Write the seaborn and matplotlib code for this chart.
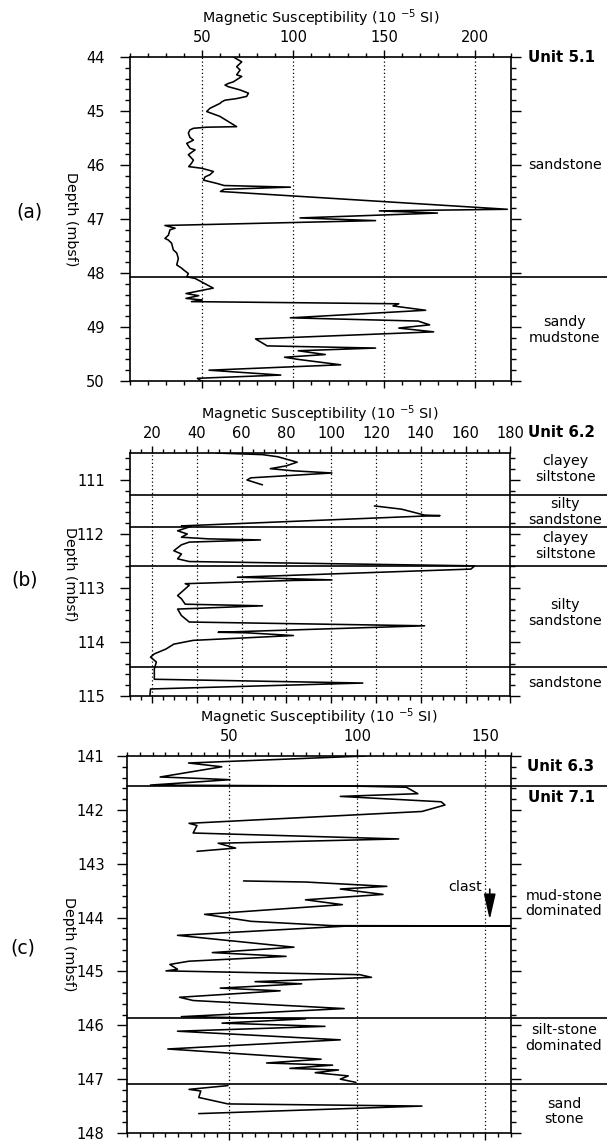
import numpy as np
import pandas as pd
import matplotlib
matplotlib.use("Agg")
import matplotlib.pyplot as plt
import matplotlib.transforms as mtransforms
from matplotlib.ticker import MultipleLocator
import seaborn as sns

# ---------------- data ----------------
# Panel (a): Unit 5.1
a_depth = [44.00, 44.09, 44.18, 44.24, 44.33, 44.36, 44.46, 44.49, 44.52, 44.55,
           44.61, 44.67, 44.73, 44.77, 44.80, 44.83, 44.86, 44.95, 45.01, 45.10,
           45.29, 45.30, 45.32, 45.35, 45.41, 45.49, 45.54, 45.60, 45.69, 45.72,
           45.81, 45.91, 45.97, 46.03, 46.06, 46.12, 46.18, 46.22, 46.28, 46.34,
           46.38, 46.41, 46.45, 46.49, 46.82, 46.85, 46.89, 46.98, 47.03, 47.12,
           47.17, 47.20, 47.30, 47.36, 47.39, 47.45, 47.57, 47.63, 47.73, 47.85,
           47.91, 47.94, 48.01, 48.07, 48.10, 48.28, 48.38, 48.42, 48.47, 48.50,
           48.53, 48.57, 48.61, 48.69, 48.83, 48.89, 48.96, 49.02, 49.09, 49.22,
           49.35, 49.39, 49.44, 49.51, 49.56, 49.60, 49.70, 49.80, 49.89, 49.95,
           50.00]
a_ms = [67.1, 71.7, 68.9, 70.8, 68.9, 71.7, 67.1, 64.3, 62.5, 64.3,
        70.8, 75.4, 74.4, 68.9, 62.5, 60.7, 59.7, 54.2, 52.4, 59.7,
        68.9, 52.4, 45.1, 43.2, 42.3, 43.2, 45.1, 41.4, 43.2, 46.0,
        42.3, 45.1, 44.0, 42.5, 49.6, 56.1, 54.2, 51.5, 50.6, 57.9,
        62.0, 98.5, 62.0, 60.0, 218.0, 147.5, 179.5, 103.8, 145.4, 29.4,
        35.0, 32.2, 31.3, 29.4, 31.3, 33.1, 34.0, 35.9, 36.8, 35.9,
        38.6, 39.6, 42.3, 41.4, 46.0, 56.0, 41.0, 48.0, 41.0, 50.0,
        44.0, 158.2, 155.0, 173.0, 98.5, 168.8, 175.2, 158.2, 177.4, 79.3,
        85.7, 145.4, 102.8, 117.7, 95.3, 102.8, 126.2, 53.7, 93.2, 47.3,
        49.4]

# Panel (b): Unit 6.2
b_depth_1 = [110.50, 110.53, 110.57, 110.67, 110.74, 110.79, 110.83, 110.87,
             110.96, 111.00, 111.09]
b_ms_1 = [48.6, 69.3, 76.2, 84.8, 79.7, 72.8, 83.1, 100.3, 64.1, 62.4, 69.3]
b_depth_2 = [111.48, 111.54, 111.65, 111.66, 111.67, 111.85, 111.86, 111.94,
             112.00, 112.06, 112.09, 112.11, 112.15, 112.20, 112.31, 112.37,
             112.46, 112.51, 112.59, 112.65, 112.80, 112.85, 112.86, 112.92,
             112.95, 113.14, 113.20, 113.30, 113.33, 113.39, 113.51, 113.63,
             113.70, 113.82, 113.83, 113.88, 113.97, 114.04, 114.13, 114.22,
             114.28, 114.37, 114.50, 114.69, 114.76, 114.87, 115.00]
b_ms_2 = [119.3, 131.4, 141.7, 148.6, 140.0, 33.1, 37.4, 31.4,
          35.7, 33.1, 45.2, 68.4, 36.6, 33.1, 29.7, 33.1,
          31.4, 36.6, 164.1, 162.4, 58.1, 100.3, 83.1, 34.8,
          36.6, 31.4, 33.1, 34.8, 69.3, 31.4, 33.1, 36.6,
          141.7, 49.5, 62.4, 83.1, 38.3, 29.7, 26.2, 21.0,
          19.3, 21.9, 21.0, 21.0, 114.1, 19.3, 19.0]

# Panel (c): Units 6.3 / 7.1
c_depth_1 = [141.00, 141.13, 141.20, 141.39, 141.42, 141.44, 141.54, 141.56,
             141.58, 141.70, 141.75, 141.85, 141.91, 142.03, 142.25, 142.29,
             142.43, 142.54, 142.62, 142.71, 142.77]
c_ms_1 = [103.0, 34.0, 47.0, 22.9, 40.3, 50.2, 19.1, 100.0,
          119.1, 123.6, 93.3, 132.7, 134.2, 125.2, 34.2, 37.3,
          35.8, 116.1, 45.6, 52.4, 37.3]
c_depth_2 = [143.32, 143.34, 143.42, 143.47, 143.57, 143.67, 143.76, 143.94,
             144.07, 144.15, 144.155, 144.16, 144.33, 144.55, 144.65, 144.72,
             144.81, 144.87, 144.96, 144.99, 145.06, 145.11, 145.19, 145.23,
             145.31, 145.36, 145.48, 145.54, 145.69, 145.84, 145.88, 145.96,
             146.02, 146.11, 146.27, 146.44, 146.63, 146.70, 146.74, 146.80,
             146.83, 146.88, 146.94, 147.00, 147.06]
c_ms_2 = [55.5, 79.7, 111.5, 93.3, 110.0, 79.7, 94.1, 40.3,
          58.5, 90.3, 160.0, 95.0, 29.7, 75.2, 43.3, 72.1,
          34.2, 26.7, 29.7, 25.2, 100.9, 105.5, 60.0, 78.2,
          46.4, 69.8, 30.5, 35.8, 94.8, 31.2, 79.7, 47.1,
          87.3, 29.7, 93.3, 25.9, 85.8, 64.5, 90.3, 73.6,
          92.6, 83.5, 96.4, 93.3, 99.4]
c_depth_3 = [147.12, 147.19, 147.22, 147.34, 147.46, 147.50, 147.64]
c_ms_3 = [49.4, 34.2, 38.8, 38.0, 49.4, 125.2, 38.0]

a_bounds = [48.08]
b_bounds = [111.28, 111.87, 112.59, 114.47]
c_bounds = [141.56, 145.87, 147.09]

a_litho = [("sandstone", 46.0), ("sandy\nmudstone", 49.05)]
b_litho = [("clayey\nsiltstone", 110.8), ("silty\nsandstone", 111.59),
           ("clayey\nsiltstone", 112.22), ("silty\nsandstone", 113.46),
           ("sandstone", 114.76)]
c_litho = [("mud-stone\ndominated", 143.74), ("silt-stone\ndominated", 146.24),
           ("sand\nstone", 147.6)]
c_units = [("Unit 6.3", 141.2), ("Unit 7.1", 141.77)]

xlabel_text = "Magnetic Susceptibility (10 $^{-5}$ SI)"

# ---------------- style ----------------
sns.set_theme(style="ticks")
plt.rcParams["font.family"] = ["DejaVu Sans"]
plt.rcParams["mathtext.default"] = "regular"
plt.rcParams["axes.linewidth"] = 1.2
for k in ["text.color", "axes.labelcolor", "xtick.color", "ytick.color",
          "axes.edgecolor"]:
    plt.rcParams[k] = "black"

W, H = 607, 1141
fig = plt.figure(figsize=(W / 100, H / 100), dpi=100)
fig.patch.set_facecolor("white")

FS = 10.3


def add_ax(left_px, right_px, top_px, bottom_px):
    return fig.add_axes([left_px / W, 1 - bottom_px / H,
                         (right_px - left_px) / W, (bottom_px - top_px) / H])


def style_panel(ax, xlim, ylim, xmajor, xminor, left_px, right_px,
                ypad=11, ylab_px=70.5):
    ax.set_facecolor("white")
    ax.set_xlim(*xlim)
    ax.set_ylim(ylim[1], ylim[0])
    ax.xaxis.set_major_locator(MultipleLocator(xmajor))
    ax.xaxis.set_minor_locator(MultipleLocator(xminor))
    ax.yaxis.set_major_locator(MultipleLocator(1))
    ax.yaxis.set_minor_locator(MultipleLocator(0.2))
    ax.tick_params(axis="x", which="both", top=True, bottom=True,
                   labeltop=True, labelbottom=False, direction="out",
                   color="black", labelcolor="black", width=1.0)
    ax.tick_params(axis="x", which="major", length=5, pad=3.5,
                   labelsize=FS + 0.2)
    ax.tick_params(axis="x", which="minor", length=3)
    ax.tick_params(axis="y", which="both", left=True, right=True,
                   labelleft=True, labelright=False, direction="out",
                   color="black", labelcolor="black", width=1.0)
    ax.tick_params(axis="y", which="major", length=7, pad=ypad,
                   labelsize=FS + 0.2)
    ax.tick_params(axis="y", which="minor", length=3.5)
    for s in ax.spines.values():
        s.set_color("black")
        s.set_linewidth(1.2)
    for t in ax.xaxis.get_majorticklocs():
        if xlim[0] < t < xlim[1]:
            ax.axvline(t, color="black", lw=0.9, ls=(0, (1, 2)), zorder=1)
    ax.set_xlabel("")
    ax.set_ylabel("Depth (mbsf)", rotation=270, fontsize=FS, va="center",
                  color="black")
    ax.yaxis.set_label_coords((ylab_px - left_px) / (right_px - left_px), 0.5)
    ax.annotate(xlabel_text, xy=(0.5, 1), xycoords="axes fraction",
                xytext=(0, 28), textcoords="offset points",
                ha="center", va="center", fontsize=FS, color="black")


def add_bounds(ax, bounds, left_px, right_px):
    for b in bounds:
        ax.axhline(b, xmin=0, xmax=(W - left_px) / (right_px - left_px),
                   color="black", lw=1.2, clip_on=False, zorder=3)


def add_labels(ax, labels, bold=False, xpx=565):
    tr = mtransforms.blended_transform_factory(fig.transFigure, ax.transData)
    for txt, d in labels:
        ax.text(xpx / W, d, txt, transform=tr, ha="center", va="center",
                fontsize=FS + (0.5 if bold else 0), color="black",
                fontweight="bold" if bold else "normal", linespacing=1.15)


def draw_curve(ax, depth, ms, seg):
    df = pd.DataFrame({"depth": depth, "ms": ms, "seg": seg})
    sns.lineplot(data=df, x="ms", y="depth", units="seg", estimator=None,
                 sort=False, color="black", lw=1.15, ax=ax, legend=False,
                 zorder=4)


# ---------------- panel (a) ----------------
La, Ra = 129.7, 511.0
ax_a = add_ax(La, Ra, 57, 381)
draw_curve(ax_a, a_depth, a_ms, [0] * len(a_depth))
style_panel(ax_a, (10, 220), (44, 50), 50, 10, La, Ra)
add_bounds(ax_a, a_bounds, La, Ra)
add_labels(ax_a, a_litho)
add_labels(ax_a, [("Unit 5.1", 44.0)], bold=True, xpx=561)

# ---------------- panel (b) ----------------
Lb, Rb = 129.7, 510.3
ax_b = add_ax(Lb, Rb, 453, 696)
draw_curve(ax_b, b_depth_1 + b_depth_2, b_ms_1 + b_ms_2,
           [0] * len(b_depth_1) + [1] * len(b_depth_2))
style_panel(ax_b, (10, 180), (110.5, 115), 20, 5, Lb, Rb, ylab_px=69.5)
add_bounds(ax_b, b_bounds, Lb, Rb)
add_labels(ax_b, b_litho)
ax_b.text(561 / W, 1 + 20 / 243, "Unit 6.2",
          transform=mtransforms.blended_transform_factory(fig.transFigure, ax_b.transAxes),
          ha="center", va="center", fontsize=FS + 0.5, fontweight="bold",
          color="black")

# ---------------- panel (c) ----------------
Lc, Rc = 127.1, 511.0
ax_c = add_ax(Lc, Rc, 756, 1133)
draw_curve(ax_c, c_depth_1 + c_depth_2 + c_depth_3, c_ms_1 + c_ms_2 + c_ms_3,
           [0] * len(c_depth_1) + [1] * len(c_depth_2) + [2] * len(c_depth_3))
style_panel(ax_c, (10, 160), (141, 148), 50, 5, Lc, Rc, ypad=9.2,
            ylab_px=68.5)
add_bounds(ax_c, c_bounds, Lc, Rc)
add_labels(ax_c, c_litho, xpx=564)
add_labels(ax_c, c_units, bold=True, xpx=561)
ax_c.annotate("", xy=(151.7, 144.09), xytext=(151.7, 143.42),
              arrowprops=dict(arrowstyle="-|>,head_length=1.3,head_width=0.3",
                              color="black", lw=1.2, mutation_scale=12),
              zorder=5)
ax_c.text(148.6, 143.44, "clast", ha="right", va="center", fontsize=FS,
          color="black")

# ---------------- panel letters ----------------
fig.text(29 / W, 1 - 212 / H, "(a)", ha="center", va="center", fontsize=13.5)
fig.text(25 / W, 1 - 580 / H, "(b)", ha="center", va="center", fontsize=13.5)
fig.text(23 / W, 1 - 948 / H, "(c)", ha="center", va="center", fontsize=13.5)

fig.savefig("out.png", dpi=100, facecolor="white")
